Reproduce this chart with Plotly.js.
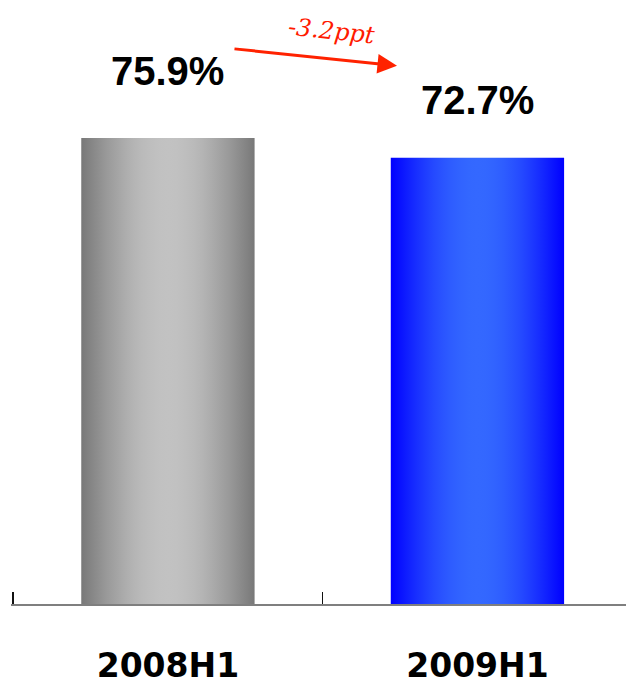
<!DOCTYPE html>
<html>
<head>
<meta charset="utf-8">
<script src="https://cdn.plot.ly/plotly-3.0.1.min.js"></script>
<style>
  html, body { margin: 0; padding: 0; background: #ffffff; }
  #chart { width: 626px; height: 686px; }
</style>
</head>
<body>
<div id="chart"></div>
<script>
// Half-year periods and the share for each
const periods = ['2008H1', '2009H1'];
const shares = [75.9, 72.7];
const changeLabel = '-3.2ppt';

// Bar shading: edge colour -> centre highlight -> edge colour
const barEdge = ['#787878', '#0000ff'];
const barMid = ['#c2c2c2', '#3468ff'];

const trace = {
  type: 'bar',
  x: periods,
  y: shares,
  width: 0.56,
  marker: { color: barEdge, line: { width: 0 } },
  hoverinfo: 'skip',
  cliponaxis: false
};

// Percentage labels above each bar
const valueShift = [43, 34];
const valueLabels = periods.map((p, i) => ({
  x: p, y: shares[i], xref: 'x', yref: 'y',
  text: shares[i].toFixed(1) + '%',
  showarrow: false,
  xanchor: 'center',
  yanchor: 'bottom',
  yshift: valueShift[i],
  font: { family: '"Liberation Sans", Arial, sans-serif', size: 40, weight: 700, color: '#000000' }
}));

const layout = {
  width: 626,
  height: 686,
  margin: { l: 11, r: 0, t: 0, b: 82, pad: 0 },
  paper_bgcolor: '#ffffff',
  plot_bgcolor: '#ffffff',
  showlegend: false,
  xaxis: {
    type: 'category',
    range: [-0.507, 1.480],
    showline: true,
    linecolor: 'rgba(0,0,0,0.5)',
    linewidth: 2,
    ticks: 'inside',
    tickson: 'boundaries',
    ticklen: 12,
    tickwidth: 1.5,
    tickcolor: '#111111',
    ticklabelstandoff: 31,
    showgrid: false,
    zeroline: false,
    tickfont: { family: '"DejaVu Sans", sans-serif', size: 33, weight: 700, color: '#000000' },
    fixedrange: true
  },
  yaxis: {
    range: [0, 98.4],
    visible: false,
    showgrid: false,
    zeroline: false,
    fixedrange: true
  },
  annotations: valueLabels.concat([
    {
      // change arrow between the two periods
      xref: 'paper', yref: 'paper',
      x: 0.6276, y: 0.8912,
      axref: 'pixel', ayref: 'pixel',
      ax: -164, ay: -17,
      text: '',
      showarrow: true,
      arrowhead: 2,
      arrowsize: 1.3,
      arrowwidth: 3,
      arrowcolor: '#ff2200',
      standoff: 0,
      startstandoff: 0
    },
    {
      xref: 'paper', yref: 'paper',
      x: 0.521, y: 0.9487,
      xanchor: 'center',
      yanchor: 'middle',
      text: changeLabel,
      showarrow: false,
      textangle: 6,
      font: { family: '"DejaVu Serif", serif', size: 24, color: '#ff1a00', style: 'italic' }
    }
  ])
};

function mixHex(a, b, w) {
  const pa = [1, 3, 5].map(k => parseInt(a.substr(k, 2), 16));
  const pb = [1, 3, 5].map(k => parseInt(b.substr(k, 2), 16));
  return 'rgb(' + pa.map((v, k) => Math.round(v + (pb[k] - v) * w)).join(',') + ')';
}

Plotly.newPlot('chart', [trace], layout, { staticPlot: true, displayModeBar: false }).then(gd => {
  // Smooth horizontal shading for each bar (bright centre, darker sides)
  const svg = gd.querySelector('svg.main-svg');
  const ns = 'http://www.w3.org/2000/svg';
  let defs = svg.querySelector('defs');
  if (!defs) { defs = document.createElementNS(ns, 'defs'); svg.insertBefore(defs, svg.firstChild); }
  periods.forEach((p, i) => {
    const g = document.createElementNS(ns, 'linearGradient');
    g.setAttribute('id', 'barShade' + i);
    g.setAttribute('x1', '0'); g.setAttribute('y1', '0');
    g.setAttribute('x2', '1'); g.setAttribute('y2', '0');
    for (let k = 0; k <= 20; k++) {
      const t = k / 20;
      const s = document.createElementNS(ns, 'stop');
      s.setAttribute('offset', t);
      s.setAttribute('stop-color', mixHex(barEdge[i], barMid[i], Math.sin(Math.PI * t)));
      g.appendChild(s);
    }
    defs.appendChild(g);
  });
  gd.querySelectorAll('g.trace.bars g.point path').forEach((path, i) => {
    path.style.fill = 'url(#barShade' + i + ')';
  });
});
</script>
</body>
</html>
